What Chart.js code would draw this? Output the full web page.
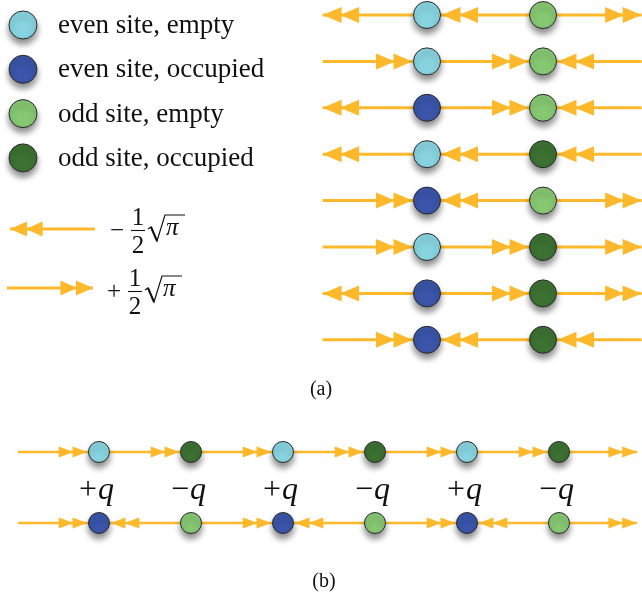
<!DOCTYPE html>
<html>
<head>
<meta charset="utf-8">
<script src="https://cdn.jsdelivr.net/npm/chart.js@4"></script>
<style>
html,body{margin:0;padding:0;background:#fff;}
#wrap{width:642px;height:599px;}
</style>
</head>
<body>
<div id="wrap"><canvas id="c" width="642" height="599"></canvas></div>
<script>
// ---------- data ----------
// panel (a): 8 configurations of one even site (x=0) and one odd site (x=1)
const aRows = [0, 1, 2, 3, 4, 5, 6, 7];
const aEvenOccupied = [0, 0, 1, 0, 1, 0, 1, 1];
const aOddOccupied  = [0, 0, 0, 1, 0, 1, 1, 1];
// field direction on segments: left of even, between, right of odd (-1 = -½√π, +1 = +½√π)
const aArrows = [
  [-1, -1,  1],
  [ 1,  1, -1],
  [-1,  1, -1],
  [-1, -1, -1],
  [ 1, -1,  1],
  [ 1,  1,  1],
  [-1,  1,  1],
  [ 1, -1, -1]
];
// panel (b): chain of 6 sites, two rows
const bSites = [0, 1, 2, 3, 4, 5];
const bTopOccupied    = [0, 1, 0, 1, 0, 1];
const bBottomOccupied = [1, 0, 1, 0, 1, 0];
const bTopArrows    = [1, 1, 1, 1, 1, 1, 1];
const bBottomArrows = [1, -1, 1, -1, 1, -1, 1];
const bCharges = ['+q', '−q', '+q', '−q', '+q', '−q'];
// legend
const legendLabels = ['even site, empty', 'even site, occupied', 'odd site, empty', 'odd site, occupied'];
const legendArrowDirs = [-1, 1];
const legendArrowSigns = ['−', '+'];
const panelLabels = ['(a)', '(b)'];

// ---------- styles ----------
const ARROW = '#FDB92B';
const COL = { evenEmpty: '#87D3DF', evenOcc: '#3A55A9', oddEmpty: '#86C772', oddOcc: '#3C7132' };
const EDGE = '#2a2a2a';
const SERIF = '"Liberation Serif", "DejaVu Serif", serif';

// layout (pixel) constants for the scales
const A_X0 = 427, A_DX = 116, A_Y0 = 15, A_DY = 46.4;
const B_X0 = 99,  B_DX = 92,  B_Y0 = 452, B_DY = 71;
const W = 642, H = 599;
const aLine = [-0.9, 1.85];
const bLine = [-0.88, 5.85];
const rA = 13.5, rB = 10.5, rL = 14;

function pts(xs, ys, sel) { const o = []; xs.forEach((x, i) => { if (sel(i)) o.push({ x: x, y: ys[i] }); }); return o; }
function ds(label, data, color, r, xid, yid) {
  return { label, data, xAxisID: xid, yAxisID: yid, pointRadius: r, pointHoverRadius: r,
    pointBackgroundColor: color, pointBorderColor: EDGE, pointBorderWidth: 1, showLine: false, clip: false };
}
const zeros = aRows.map(() => 0), ones = aRows.map(() => 1);
const datasets = [
  ds('a even empty', pts(zeros, aRows, i => !aEvenOccupied[i]), COL.evenEmpty, rA, 'xA', 'yA'),
  ds('a even occ',   pts(zeros, aRows, i => aEvenOccupied[i]),  COL.evenOcc,   rA, 'xA', 'yA'),
  ds('a odd empty',  pts(ones, aRows, i => !aOddOccupied[i]),   COL.oddEmpty,  rA, 'xA', 'yA'),
  ds('a odd occ',    pts(ones, aRows, i => aOddOccupied[i]),    COL.oddOcc,    rA, 'xA', 'yA'),
];
const bColor = (s, occ) => (s % 2 === 0) ? (occ ? COL.evenOcc : COL.evenEmpty) : (occ ? COL.oddOcc : COL.oddEmpty);
bSites.forEach((s, i) => {
  datasets.push(ds('b top ' + s, [{ x: s, y: 0 }], bColor(s, bTopOccupied[i]), rB, 'xB', 'yB'));
  datasets.push(ds('b bot ' + s, [{ x: s, y: 1 }], bColor(s, bBottomOccupied[i]), rB, 'xB', 'yB'));
});
const legendColors = [COL.evenEmpty, COL.evenOcc, COL.oddEmpty, COL.oddOcc];
legendLabels.forEach((lab, i) => {
  datasets.push(ds(lab, [{ x: 23, y: 25 + 44.3 * i }], legendColors[i], rL, 'px', 'py'));
});

// ---------- drawing helpers ----------
function arrowSeg(ctx, x0, x1, y, dir, tip, L, Hh, lw) {
  ctx.strokeStyle = ARROW; ctx.fillStyle = ARROW; ctx.lineWidth = lw;
  ctx.beginPath(); ctx.moveTo(x0, y); ctx.lineTo(x1, y); ctx.stroke();
  for (let k = 0; k < 2; k++) {
    const t = tip - dir * k * (L * 0.92);
    const b = t - dir * L;
    ctx.beginPath(); ctx.moveTo(t, y); ctx.lineTo(b, y - Hh); ctx.lineTo(b, y + Hh); ctx.closePath(); ctx.fill();
  }
}
function chainArrows(ctx, sx, y, line, sites, dirs, r, L, Hh, lw) {
  const ends = [line[0]].concat(sites).concat([line[1]]);
  for (let k = 0; k < ends.length - 1; k++) {
    const a = ends[k], b = ends[k + 1];
    const pa = sx.getPixelForValue(a), pb = sx.getPixelForValue(b);
    const aSite = k > 0, bSite = k < ends.length - 2;
    const d = dirs[k];
    let tip;
    if (d > 0) tip = bSite ? pb - r - 1 : pb; else tip = aSite ? pa + r + 1 : pa;
    arrowSeg(ctx, pa, pb, y, d, tip, L, Hh, lw);
  }
}
function fracSqrt(ctx, sign, x, cy) {
  ctx.fillStyle = '#111'; ctx.strokeStyle = '#111';
  ctx.font = '25px ' + SERIF; ctx.textAlign = 'center'; ctx.textBaseline = 'alphabetic';
  ctx.fillText(sign, x + 9, cy + 7.5);
  ctx.fillText('1', x + 30, cy - 5);
  ctx.fillText('2', x + 30, cy + 23);
  ctx.lineWidth = 1.1;
  ctx.beginPath(); ctx.moveTo(x + 23, cy + 0.5); ctx.lineTo(x + 37, cy + 0.5); ctx.stroke();
  // radical
  ctx.lineWidth = 1.2;
  ctx.beginPath();
  ctx.moveTo(x + 40, cy - 1); ctx.lineTo(x + 43, cy - 3); ctx.lineTo(x + 49, cy + 11);
  ctx.lineTo(x + 57, cy - 15); ctx.lineTo(x + 77, cy - 15); ctx.stroke();
  ctx.beginPath(); ctx.lineWidth = 2; ctx.moveTo(x + 43, cy - 3); ctx.lineTo(x + 49, cy + 11); ctx.stroke();
  ctx.font = 'italic 25px ' + SERIF; ctx.textAlign = 'left';
  ctx.fillText('π', x + 58, cy + 5);
}

const drawPlugin = {
  id: 'lattice',
  beforeDatasetsDraw(chart) {
    const ctx = chart.ctx, s = chart.scales;
    ctx.save();
    aRows.forEach((row, i) => {
      chainArrows(ctx, s.xA, s.yA.getPixelForValue(row), aLine, [0, 1], aArrows[i], rA, 19, 8, 3);
    });
    chainArrows(ctx, s.xB, s.yB.getPixelForValue(0), bLine, bSites, bTopArrows, rB, 15, 5.5, 2.5);
    chainArrows(ctx, s.xB, s.yB.getPixelForValue(1), bLine, bSites, bBottomArrows, rB, 15, 5.5, 2.5);
    const lx = [[10, 95], [7, 93]], ly = [229, 288];
    legendArrowDirs.forEach((d, i) => {
      const x0 = s.px.getPixelForValue(lx[i][0]), x1 = s.px.getPixelForValue(lx[i][1]);
      arrowSeg(ctx, x0, x1, s.py.getPixelForValue(ly[i]), d, d > 0 ? x1 : x0, 17, 7.5, 3);
    });
    ctx.restore();
    ctx.save();
    ctx.shadowColor = 'rgba(0,0,0,0.45)';
    ctx.shadowBlur = 6;
    ctx.shadowOffsetY = 5;
  },
  afterDatasetsDraw(chart) {
    chart.ctx.restore();
  },
  afterDraw(chart) {
    const ctx = chart.ctx, s = chart.scales;
    ctx.save();
    ctx.fillStyle = '#111';
    ctx.textBaseline = 'alphabetic';
    ctx.font = '27px ' + SERIF; ctx.textAlign = 'left';
    legendLabels.forEach((lab, i) => ctx.fillText(lab, s.px.getPixelForValue(58), s.py.getPixelForValue(25 + 44.3 * i + 8)));
    fracSqrt(ctx, legendArrowSigns[0], s.px.getPixelForValue(108), s.py.getPixelForValue(230));
    fracSqrt(ctx, legendArrowSigns[1], s.px.getPixelForValue(105), s.py.getPixelForValue(291));
    ctx.fillStyle = '#111'; ctx.font = '20px ' + SERIF; ctx.textAlign = 'center';
    ctx.fillText(panelLabels[0], s.px.getPixelForValue(321), s.py.getPixelForValue(395));
    ctx.fillText(panelLabels[1], s.px.getPixelForValue(324), s.py.getPixelForValue(587));
    bCharges.forEach((q, i) => {
      const cx = s.xB.getPixelForValue(bSites[i]) - 3;
      const y = s.yB.getPixelForValue(0.5) + 11;
      ctx.font = '32px ' + SERIF;
      const w1 = ctx.measureText(q[0]).width;
      ctx.font = 'italic 32px ' + SERIF;
      const w2 = ctx.measureText('q').width;
      const x0 = cx - (w1 + w2) / 2;
      ctx.textAlign = 'left';
      ctx.font = '32px ' + SERIF; ctx.fillText(q[0], x0, y);
      ctx.font = 'italic 32px ' + SERIF; ctx.fillText('q', x0 + w1 + 1, y);
    });
    ctx.restore();
  }
};

new Chart(document.getElementById('c'), {
  type: 'scatter',
  data: { datasets },
  options: {
    responsive: false, animation: false, events: [],
    layout: { padding: 0, autoPadding: false },
    plugins: { legend: { display: false }, tooltip: { enabled: false } },
    scales: {
      px: { type: 'linear', axis: 'x', display: false, min: 0, max: W },
      py: { type: 'linear', axis: 'y', display: false, min: 0, max: H, reverse: true },
      xA: { type: 'linear', axis: 'x', display: false, min: -A_X0 / A_DX, max: (W - A_X0) / A_DX },
      yA: { type: 'linear', axis: 'y', display: false, min: -A_Y0 / A_DY, max: (H - A_Y0) / A_DY, reverse: true },
      xB: { type: 'linear', axis: 'x', display: false, min: -B_X0 / B_DX, max: (W - B_X0) / B_DX },
      yB: { type: 'linear', axis: 'y', display: false, min: -B_Y0 / B_DY, max: (H - B_Y0) / B_DY, reverse: true }
    }
  },
  plugins: [drawPlugin]
});
</script>
</body>
</html>
